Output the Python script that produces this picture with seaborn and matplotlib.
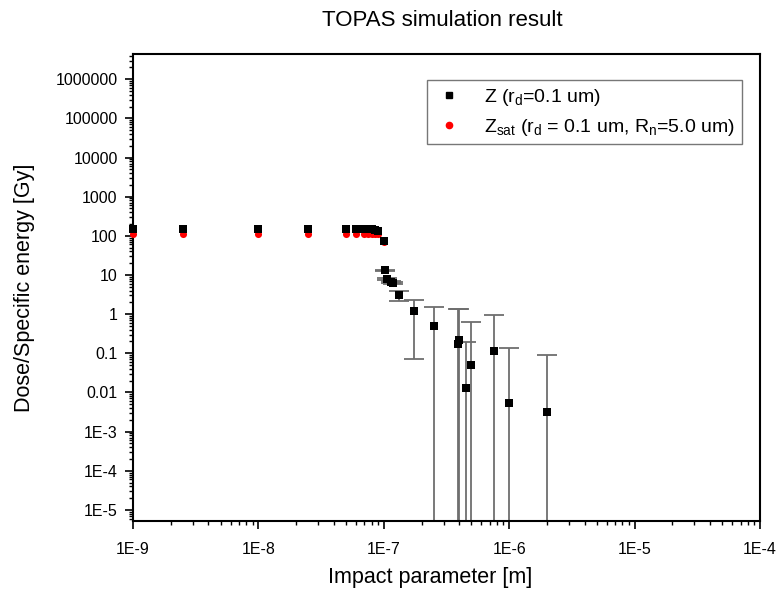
import numpy as np
import pandas as pd
import matplotlib
matplotlib.use("Agg")
import matplotlib.pyplot as plt
from matplotlib.ticker import LogLocator, FixedLocator, FixedFormatter, NullFormatter
from matplotlib.lines import Line2D
import seaborn as sns

# ---------------- data ----------------
impact_z = [1e-9, 2.5e-9, 1e-8, 2.5e-8, 5e-8, 6e-8, 7e-8, 7.5e-8, 8e-8, 8.5e-8, 9e-8,
            1e-7, 1.03e-7, 1.07e-7, 1.14e-7, 1.19e-7, 1.32e-7, 1.75e-7, 2.5e-7,
            3.9e-7, 4e-7, 4.5e-7, 5e-7, 7.5e-7, 1e-6, 2e-6]
dose_z = [145, 145, 145, 145, 145, 145, 145, 145, 145, 140, 135,
          72, 13, 7.9, 6.8, 6.2, 3.0, 1.17, 0.49,
          0.17, 0.22, 0.013, 0.049, 0.116, 0.0053, 0.0032]
err_z = [0, 0, 0, 0, 0, 0, 0, 0, 0, 0, 0,
         0, 0.6, 0.4, 0.4, 0.4, 0.8, 1.1, 1.02,
         1.18, 1.13, 0.18, 0.58, 0.86, 0.135, 0.086]

impact_zsat = [1e-9, 2.5e-9, 1e-8, 2.5e-8, 5e-8, 6e-8, 7e-8, 7.5e-8, 8e-8, 8.5e-8, 9e-8,
               1e-7, 1.03e-7, 1.07e-7, 1.14e-7, 1.19e-7, 1.32e-7, 1.75e-7, 2.5e-7,
               3.9e-7, 4e-7, 4.5e-7, 5e-7, 7.5e-7, 1e-6, 2e-6]
dose_zsat = [112, 112, 112, 112, 112, 112, 112, 112, 112, 110, 108,
             70, 13, 7.9, 6.8, 6.2, 3.0, 1.17, 0.49,
             0.17, 0.22, 0.013, 0.049, 0.116, 0.0053, 0.0032]

series_labels = [r"Z (r$_\mathregular{d}$=0.1 um)",
                 r"Z$_\mathregular{sat}$ (r$_\mathregular{d}$ = 0.1 um, R$_\mathregular{n}$=5.0 um)"]

x_ticks = [1e-9, 1e-8, 1e-7, 1e-6, 1e-5, 1e-4]
x_tick_labels = ["1E-9", "1E-8", "1E-7", "1E-6", "1E-5", "1E-4"]
y_ticks = [1e6, 1e5, 1e4, 1e3, 1e2, 1e1, 1, 0.1, 0.01, 1e-3, 1e-4, 1e-5]
y_tick_labels = ["1000000", "100000", "10000", "1000", "100", "10", "1",
                 "0.1", "0.01", "1E-3", "1E-4", "1E-5"]

title = "TOPAS simulation result"
x_label = "Impact parameter [m]"
y_label = "Dose/Specific energy [Gy]"

# ---------------- style ----------------
sns.set_style("ticks")
plt.rcParams["font.family"] = ["Liberation Sans", "DejaVu Sans"]
plt.rcParams["mathtext.fontset"] = "custom"
plt.rcParams["mathtext.rm"] = "Liberation Sans"
plt.rcParams["mathtext.it"] = "Liberation Sans"
for k in ["text.color", "axes.labelcolor", "xtick.color", "ytick.color",
          "xtick.labelcolor", "ytick.labelcolor"]:
    plt.rcParams[k] = "black"

W, H = 784, 594
L, R, T, B = 133, 760, 54, 521
fig = plt.figure(figsize=(W / 100, H / 100), dpi=100)
ax = fig.add_axes([L / W, 1 - B / H, (R - L) / W, (B - T) / H])
ax.set_xscale("log")
ax.set_yscale("log")

df_z = pd.DataFrame({"x": impact_z, "y": dose_z, "err": err_z})
df_sat = pd.DataFrame({"x": impact_zsat, "y": dose_zsat})
df_err = df_z[df_z["err"] > 0]

# error bars (beneath markers)
ax.errorbar(df_err["x"], df_err["y"], yerr=df_err["err"], fmt="none",
            ecolor="#6e6e6e", elinewidth=1.3, capsize=7, capthick=1.3, zorder=1)

sns.scatterplot(data=df_sat, x="x", y="y", ax=ax, color="#ff0000", marker="o",
                s=26, linewidth=0, zorder=3, clip_on=False, legend=False)
sns.scatterplot(data=df_z, x="x", y="y", ax=ax, color="black", marker="s",
                s=34, linewidth=0, zorder=4, clip_on=False, legend=False)

ax.set_xlim(1e-9, 1e-4)
ax.set_ylim(5.2e-6, 4.4e6)

ax.xaxis.set_major_locator(FixedLocator(x_ticks))
ax.xaxis.set_major_formatter(FixedFormatter(x_tick_labels))
ax.xaxis.set_minor_locator(LogLocator(base=10, subs=np.arange(2, 10), numticks=100))
ax.xaxis.set_minor_formatter(NullFormatter())
ax.yaxis.set_major_locator(FixedLocator(y_ticks))
ax.yaxis.set_major_formatter(FixedFormatter(y_tick_labels))
ax.yaxis.set_minor_locator(LogLocator(base=10, subs=np.arange(2, 10), numticks=100))
ax.yaxis.set_minor_formatter(NullFormatter())

ax.tick_params(axis="both", which="major", direction="out", length=6, width=1.2,
               labelsize=11.5, colors="black")
ax.tick_params(axis="x", which="major", pad=9)
ax.tick_params(axis="y", which="major", pad=5)
ax.tick_params(axis="both", which="minor", direction="out", length=3, width=1.0,
               colors="black")
for sp in ax.spines.values():
    sp.set_linewidth(1.5)
    sp.set_color("black")
    sp.set_visible(True)

ax.set_xlabel(x_label, fontsize=15.5, color="black")
ax.set_ylabel(y_label, fontsize=15.5, color="black")
ax.xaxis.set_label_coords((430 - L) / (R - L), (B - 578) / (B - T))
ax.yaxis.set_label_coords((25 - L) / (R - L), 0.5)
ax.xaxis.label.set_verticalalignment("center")
ax.yaxis.label.set_verticalalignment("center")
fig.text(442 / W, 1 - 21 / H, title, fontsize=16, ha="center", va="center",
         color="black")

handles = [Line2D([], [], linestyle="none", marker="s", color="black", markersize=4),
           Line2D([], [], linestyle="none", marker="o", color="#ff0000", markersize=4.5)]
leg = ax.legend(handles, series_labels, loc="upper right",
                bbox_to_anchor=((742 - L) / (R - L), (B - 80) / (B - T)),
                borderaxespad=0, fontsize=14, frameon=True, fancybox=False,
                edgecolor="#555555", handletextpad=1.0, handlelength=1.6,
                borderpad=0.35, labelspacing=0.45, labelcolor="black")
leg.get_frame().set_linewidth(1.0)

fig.savefig("out.png", dpi=100, facecolor="white")
